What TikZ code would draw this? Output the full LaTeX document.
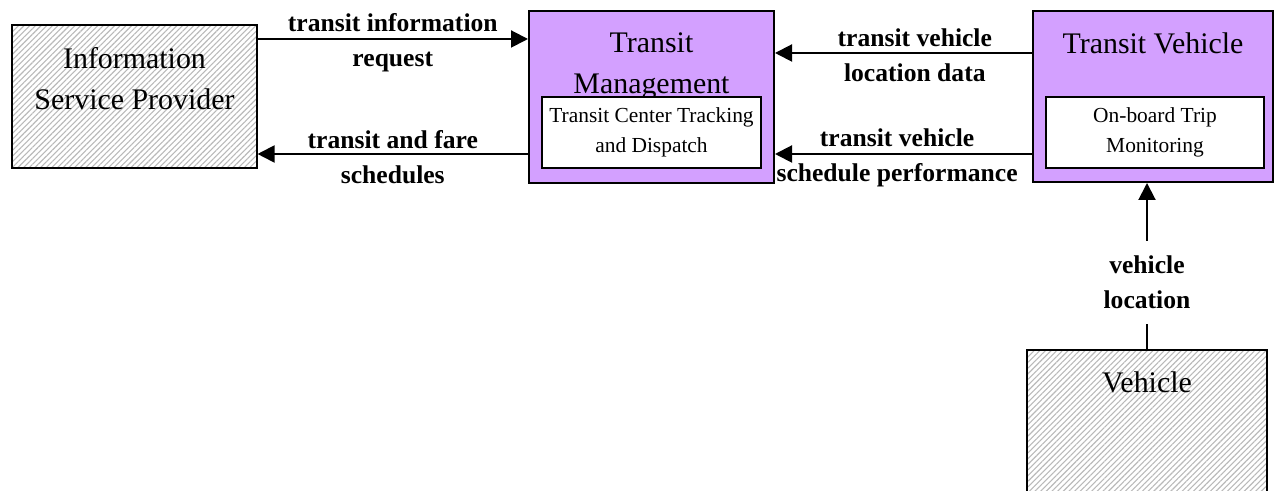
\documentclass[tikz,border=0pt]{standalone}
\usepackage{fontspec}
\setmainfont{Liberation Serif}
\usepackage{tikz}
\usetikzlibrary{positioning}
\usetikzlibrary{arrows.meta, patterns.meta}
\definecolor{lavender}{RGB}{211,160,255}
\definecolor{hatch}{RGB}{185,185,185}

\begin{document}
\begin{tikzpicture}[x=1bp, y=1bp,
    terminator/.style={draw, line width=2bp, inner sep=0,
        pattern={Lines[angle=45, distance=4bp, line width=1.1bp]}, pattern color=hatch},
    subsystem/.style={draw, line width=2bp, fill=lavender, inner sep=0},
    equip/.style={draw, line width=2bp, fill=white, align=center, inner sep=0,
        minimum height=71bp, font=\fontsize{21.5}{30}\selectfont},
    title/.style={anchor=north, align=center, inner sep=0, font=\fontsize{30}{41}\selectfont},
    flow/.style={line width=2bp, -{Triangle[length=17bp, width=17bp]}},
    flowlabel/.style={align=center, inner sep=0, font=\fontsize{25.7}{35}\selectfont\bfseries}]
    \useasboundingbox (0,0) rectangle (1275,491);

    % Information Service Provider (terminator, hatched)
    \node[terminator, minimum width=245bp, minimum height=143bp] (isp) at (134.5,394.5) {};
    \node[title, below=23bp of isp.north] (ispname) {Information\\Service Provider};

    % Transit Management with its equipment package
    \node[subsystem, minimum width=245bp, minimum height=172bp] (tm) at (651.5,394) {};
    \node[title, below=23bp of tm.north] (tmname) {Transit\\Management};
    \node[equip, minimum width=219bp, above=15bp of tm.south] (tctd) {Transit Center Tracking\\and Dispatch};

    % Transit Vehicle with its equipment package
    \node[subsystem, minimum width=240bp, minimum height=171bp] (tv) at (1153,394.5) {};
    \node[title, below=23bp of tv.north] (tvname) {Transit Vehicle};
    \node[equip, minimum width=218bp, above=14bp of tv.south, xshift=2bp] (obtm) {On-board Trip\\Monitoring};

    % Vehicle (terminator, runs off the bottom edge)
    \node[terminator, minimum width=240bp, minimum height=180bp] (veh) at (1147,51) {};
    \node[title, below=23bp of veh.north] (vehname) {Vehicle};

    % flows between ISP and Transit Management
    \coordinate (req) at ([yshift=57.5bp]isp.east);
    \coordinate (sch) at ([yshift=-57.5bp]isp.east);
    \draw[flow] (req) -- (req -| tm.west)
        node[flowlabel, midway, yshift=-4bp] {transit information\\request};
    \draw[flow] (sch -| tm.west) -- (sch)
        node[flowlabel, midway, yshift=-3bp] {transit and fare\\schedules};

    % flows from Transit Vehicle to Transit Management
    \coordinate (loc) at ([yshift=43.5bp]tv.west);
    \coordinate (perf) at ([yshift=-57.5bp]tv.west);
    \draw[flow] (loc) -- (loc -| tm.east)
        node[flowlabel, pos=0.456, yshift=-2bp] {transit vehicle\\location data};
    \draw[flow] (perf) -- (perf -| tm.east)
        node[flowlabel, pos=0.525, yshift=-4bp] {transit vehicle\\schedule performance};

    % flow from Vehicle up to Transit Vehicle
    \draw[flow] (veh.north) -- (veh.north |- tv.south)
        node[flowlabel, pos=0.4, fill=white, inner xsep=4bp, inner ysep=15bp] {vehicle\\location};
\end{tikzpicture}
\end{document}
